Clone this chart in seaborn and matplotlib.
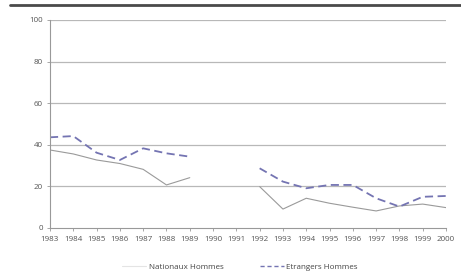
import numpy as np
import pandas as pd
import matplotlib
matplotlib.use("Agg")
import matplotlib.pyplot as plt
import seaborn as sns
from matplotlib.lines import Line2D

years = list(range(1983, 2001))
nationaux = [37.5, 35.6, 32.7, 31.0, 28.2, 20.7, 24.2, np.nan, np.nan,
             19.9, 9.1, 14.3, 11.9, 10.0, 8.2, 10.6, 11.5, 9.8]
etrangers = [43.6, 44.2, 36.2, 32.7, 38.3, 35.9, 34.3, np.nan, np.nan,
             28.7, 22.3, 19.1, 20.7, 20.7, 14.3, 10.3, 15.0, 15.4]
series_names = ["Nationaux Hommes", "Etrangers Hommes"]
y_ticks = [0, 20, 40, 60, 80, 100]

sns.set_theme(style="white")
plt.rcParams['font.family'] = ['Open Sans', 'DejaVu Sans']

def segments(vals):
    seg, out, s = 0, [], False
    for v in vals:
        if np.isnan(v):
            s = True
            out.append(-1)
        else:
            if s:
                seg += 1
                s = False
            out.append(seg)
    return out

rows = []
for name, vals in zip(series_names, [nationaux, etrangers]):
    for y, v, sg in zip(years, vals, segments(vals)):
        if not np.isnan(v):
            rows.append({"year": y, "value": v, "series": name, "segment": sg})
df = pd.DataFrame(rows)

fig = plt.figure(figsize=(4.61, 2.8), dpi=100)
ax = fig.add_axes([50/461, 1-228/280, (446-50)/461, (228-20)/280])

styles = {
    "Nationaux Hommes": dict(color="#9a9a9a", linestyle="-", lw=0.8),
    "Etrangers Hommes": dict(color="#7474b2", linestyle=(0, (4.5, 2.5)), lw=1.3),
}
for name in series_names:
    sub = df[df.series == name]
    sns.lineplot(data=sub, x="year", y="value", units="segment", estimator=None,
                 ax=ax, color=styles[name]["color"], linestyle=styles[name]["linestyle"],
                 linewidth=styles[name]["lw"], legend=False)

ax.set_xlim(1983, 2000)
ax.set_ylim(0, 100)
ax.set_xticks(years)
ax.set_xticklabels([str(y) for y in years])
ax.set_yticks(y_ticks)
ax.set_yticklabels([str(t) for t in y_ticks])
for t in y_ticks[1:]:
    ax.axhline(t, color="#b8b8b8", lw=0.9, zorder=0)
ax.set_xlabel("")
ax.set_ylabel("")
for s in ["top", "right"]:
    ax.spines[s].set_visible(False)
for s in ["left", "bottom"]:
    ax.spines[s].set_color("#999999")
    ax.spines[s].set_linewidth(0.8)
ax.tick_params(axis="x", which="both", bottom=True, length=2, width=0.6,
               color="#999999", labelsize=5.8, labelcolor="#555555", pad=4)
ax.tick_params(axis="y", which="both", left=True, length=2, width=0.6,
               color="#999999", labelsize=5.8, labelcolor="#555555", pad=3)

handles = [Line2D([], [], color="#e4e4e4", lw=0.8),
           Line2D([], [], color="#7474b2", lw=1.0, linestyle=(0, (3, 2)))]
fig.legend(handles, series_names, loc="center", bbox_to_anchor=(240/461, 1-267/280),
           ncol=2, frameon=False, fontsize=5.8, handlelength=3.0, columnspacing=4.5,
           labelcolor="#444444", handletextpad=0.3)

fig.add_artist(Line2D([10/461, 1.0], [1-5/280, 1-5/280], color="#4a4a4a", lw=2.0,
                      transform=fig.transFigure))

fig.savefig("out.png", dpi=100)
